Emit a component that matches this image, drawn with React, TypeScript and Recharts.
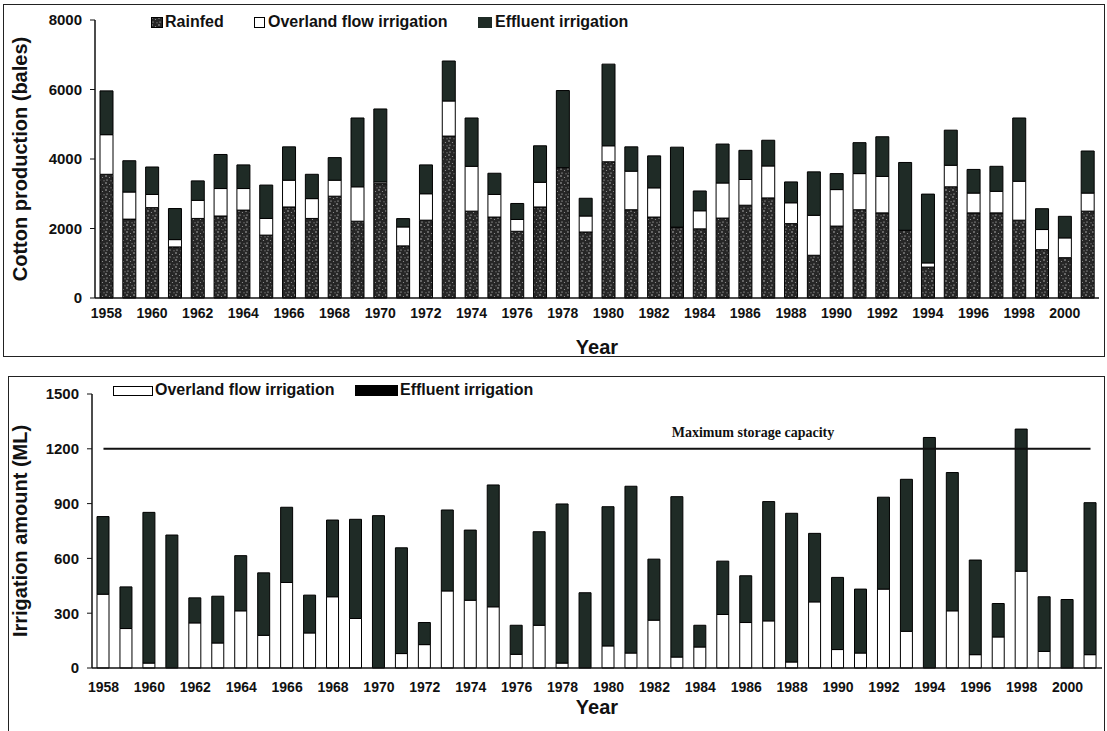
import { BarChart, Bar, XAxis, YAxis, ReferenceLine } from "recharts";

// years on the x axis
const YEARS = [
  "1958", "1959", "1960", "1961", "1962", "1963", "1964", "1965", "1966", "1967",
  "1968", "1969", "1970", "1971", "1972", "1973", "1974", "1975", "1976", "1977",
  "1978", "1979", "1980", "1981", "1982", "1983", "1984", "1985", "1986", "1987",
  "1988", "1989", "1990", "1991", "1992", "1993", "1994", "1995", "1996", "1997",
  "1998", "1999", "2000", "2001",
];

// top panel: cotton production (bales)
const RAINFED = [
  3560, 2270, 2600, 1470, 2290, 2360, 2530, 1810, 2620, 2290,
  2930, 2210, 3290, 1500, 2240, 4660, 2500, 2330, 1920, 2620,
  3750, 1900, 3920, 2540, 2330, 2040, 1990, 2300, 2670, 2880,
  2140, 1230, 2070, 2540, 2450, 1950, 890, 3200, 2450, 2450,
  2240, 1390, 1160, 2500,
];
const OVERLAND_BALES = [
  1140, 780, 380, 210, 520, 790, 620, 480, 770, 570,
  460, 990, 50, 545, 760, 1010, 1290, 650, 340, 710,
  0, 460, 460, 1110, 840, 0, 520, 1010, 740, 920,
  600, 1150, 1050, 1040, 1050, 0, 120, 620, 570, 620,
  1120, 580, 570, 520,
];
const EFFLUENT_BALES = [
  1260, 900, 790, 895, 560, 980, 680, 960, 960, 700,
  650, 1980, 2100, 240, 830, 1150, 1390, 610, 460, 1050,
  2220, 510, 2350, 700, 920, 2300, 570, 1120, 840, 740,
  600, 1250, 460, 890, 1140, 1950, 1980, 1010, 680, 720,
  1820, 600, 620, 1210,
];

// bottom panel: irrigation amount (ML)
const OVERLAND_ML = [
  404, 216, 27, 0, 247, 137, 313, 179, 468, 192,
  390, 271, 0, 79, 128, 422, 371, 335, 75, 234,
  27, 0, 121, 82, 262, 60, 115, 293, 249, 258,
  33, 362, 101, 82, 432, 201, 0, 313, 73, 170,
  530, 91, 0, 73,
];
const EFFLUENT_ML = [
  425, 228, 825, 728, 137, 256, 302, 342, 412, 207,
  420, 543, 834, 579, 121, 443, 384, 667, 159, 512,
  871, 412, 762, 913, 334, 878, 119, 292, 256, 653,
  814, 375, 395, 350, 503, 832, 1262, 757, 518, 183,
  778, 299, 375, 832,
];
const MAX_STORAGE = 1200;

const TOP_TICKS = [0, 2000, 4000, 6000, 8000];
const BOTTOM_TICKS = [0, 300, 600, 900, 1200, 1500];

const topData = YEARS.map((year, i) => ({
  year,
  rainfed: RAINFED[i],
  overland: OVERLAND_BALES[i],
  effluent: EFFLUENT_BALES[i],
}));

const bottomData = YEARS.map((year, i) => ({
  year,
  overland: OVERLAND_ML[i],
  effluent: EFFLUENT_ML[i],
}));

const FONT = "'Liberation Sans', Arial, sans-serif";
const INK = "#111";
const EFFLUENT_COLOR = "#1f2b26";

const XTick = (props: any) => {
  const { x, y, payload } = props;
  return (
    <text
      x={x}
      y={y}
      dy="0.71em"
      textAnchor="middle"
      fontFamily={FONT}
      fontWeight={700}
      fontSize={14}
      fill={INK}
    >
      {payload.value}
    </text>
  );
};

const legendText: React.CSSProperties = {
  position: "absolute",
  fontFamily: FONT,
  fontWeight: 700,
  fontSize: 16,
  color: INK,
  lineHeight: "16px",
  whiteSpace: "nowrap",
};

const Speckle = ({ id }: { id: string }) => (
  <pattern id={id} width="7" height="7" patternUnits="userSpaceOnUse">
    <rect width="7" height="7" fill="#262626" />
    <circle cx="1" cy="1" r="0.7" fill="#d8d8d8" />
    <circle cx="4.5" cy="2.5" r="0.6" fill="#9a9a9a" />
    <circle cx="2" cy="5" r="0.55" fill="#eeeeee" />
    <circle cx="6" cy="5.8" r="0.5" fill="#b5b5b5" />
  </pattern>
);

export default function App() {
  return (
    <div
      style={{
        position: "absolute",
        left: 0,
        top: 0,
        width: 1107,
        height: 731,
        background: "#fff",
        overflow: "hidden",
      }}
    >
      {/* panel frames */}
      <div style={{ position: "absolute", left: 3, top: 4, width: 1100, height: 351, border: "1.5px solid #222" }} />
      <div style={{ position: "absolute", left: 8, top: 376, width: 1095, height: 360, border: "1.5px solid #222" }} />

      {/* top chart */}
      <div style={{ position: "absolute", left: 0, top: 0 }}>
        <BarChart
          width={1107}
          height={360}
          data={topData}
          margin={{ top: 20, right: 8, left: 0, bottom: 0 }}
          barSize={13}
        >
          <defs>
            <Speckle id="rainfedFill" />
          </defs>
          <XAxis
            dataKey="year"
            interval={1}
            height={62}
            tickLine={false}
            tickMargin={4}
            tick={<XTick />}
            axisLine={{ stroke: INK, strokeWidth: 1.5 }}
            label={{
              value: "Year",
              position: "insideBottom",
              offset: 6,
              style: { fontFamily: FONT, fontWeight: 700, fontSize: 20, fill: INK },
            }}
          />
          <YAxis
            width={95}
            domain={[0, 8000]}
            ticks={TOP_TICKS}
            tickSize={5}
            tickMargin={8}
            axisLine={{ stroke: INK, strokeWidth: 1.5 }}
            tickLine={{ stroke: INK }}
            tick={{ fontFamily: FONT, fontWeight: 700, fontSize: 15, fill: INK }}
            label={{
              value: "Cotton production (bales)",
              angle: -90,
              position: "insideLeft",
              offset: 20,
              style: { fontFamily: FONT, fontWeight: 700, fontSize: 20, fill: INK, textAnchor: "middle" },
            }}
          />
          <Bar dataKey="rainfed" stackId="a" fill="url(#rainfedFill)" stroke="#000" strokeWidth={1} isAnimationActive={false} />
          <Bar dataKey="overland" stackId="a" fill="#fff" stroke="#000" strokeWidth={1} isAnimationActive={false} />
          <Bar dataKey="effluent" stackId="a" fill={EFFLUENT_COLOR} stroke="#000" strokeWidth={1} isAnimationActive={false} />
        </BarChart>
      </div>

      {/* top legend */}
      <svg style={{ position: "absolute", left: 151, top: 17 }} width={12} height={11}>
        <defs>
          <Speckle id="rainfedIcon" />
        </defs>
        <rect x={0.5} y={0.5} width={11} height={10} fill="url(#rainfedIcon)" stroke="#000" />
      </svg>
      <div style={{ ...legendText, left: 165, top: 14 }}>Rainfed</div>
      <div style={{ position: "absolute", left: 254, top: 17, width: 9, height: 9, border: "1.5px solid #000", background: "#fff" }} />
      <div style={{ ...legendText, left: 268, top: 14 }}>Overland flow irrigation</div>
      <div style={{ position: "absolute", left: 478, top: 17, width: 14, height: 11, background: EFFLUENT_COLOR }} />
      <div style={{ ...legendText, left: 495, top: 14 }}>Effluent irrigation</div>

      {/* bottom chart */}
      <div style={{ position: "absolute", left: 0, top: 365 }}>
        <BarChart
          width={1107}
          height={366}
          data={bottomData}
          margin={{ top: 29, right: 5, left: 0, bottom: 0 }}
          barSize={12}
        >
          <XAxis
            dataKey="year"
            interval={1}
            height={63}
            tickLine={false}
            tickMargin={8}
            tick={<XTick />}
            axisLine={{ stroke: INK, strokeWidth: 1.5 }}
            label={{
              value: "Year",
              position: "insideBottom",
              offset: 17,
              style: { fontFamily: FONT, fontWeight: 700, fontSize: 20, fill: INK },
            }}
          />
          <YAxis
            width={92}
            domain={[0, 1500]}
            ticks={BOTTOM_TICKS}
            tickSize={5}
            tickMargin={8}
            axisLine={{ stroke: INK, strokeWidth: 1.5 }}
            tickLine={{ stroke: INK }}
            tick={{ fontFamily: FONT, fontWeight: 700, fontSize: 15, fill: INK }}
            label={{
              value: "Irrigation amount (ML)",
              angle: -90,
              position: "insideLeft",
              offset: 20,
              style: { fontFamily: FONT, fontWeight: 700, fontSize: 20, fill: INK, textAnchor: "middle" },
            }}
          />
          <Bar dataKey="overland" stackId="b" fill="#fff" stroke="#000" strokeWidth={1} isAnimationActive={false} />
          <Bar dataKey="effluent" stackId="b" fill={EFFLUENT_COLOR} stroke="#000" strokeWidth={1} isAnimationActive={false} />
          <ReferenceLine
            segment={[
              { x: YEARS[0], y: MAX_STORAGE },
              { x: YEARS[YEARS.length - 1], y: MAX_STORAGE },
            ]}
            stroke={INK}
            strokeWidth={2}
            label={(props: any) => {
              const vb = props.viewBox || {};
              const lineY = vb.y ?? 84;
              return (
                <text
                  x={753}
                  y={lineY - 12}
                  textAnchor="middle"
                  fontFamily="'Liberation Serif', 'Times New Roman', serif"
                  fontWeight={700}
                  fontSize={14}
                  fill={INK}
                >
                  Maximum storage capacity
                </text>
              );
            }}
          />
        </BarChart>
      </div>

      {/* bottom legend */}
      <div style={{ position: "absolute", left: 113, top: 386, width: 38, height: 8, border: "1.5px solid #000", background: "#fff" }} />
      <div style={{ ...legendText, left: 155, top: 382 }}>Overland flow irrigation</div>
      <div style={{ position: "absolute", left: 355, top: 385, width: 43, height: 11, background: "#000" }} />
      <div style={{ ...legendText, left: 400, top: 382 }}>Effluent irrigation</div>
    </div>
  );
}
